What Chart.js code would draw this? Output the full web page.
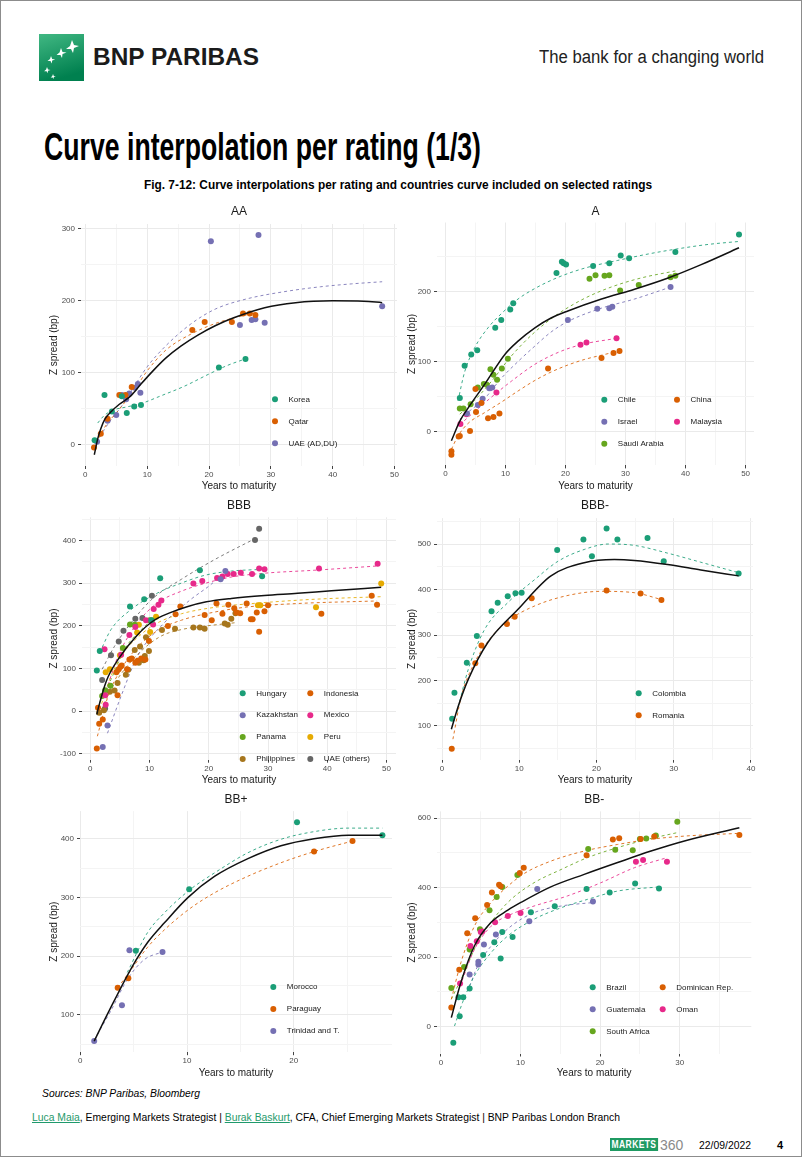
<!DOCTYPE html>
<html>
<head>
<meta charset="utf-8">
<script src="https://cdn.jsdelivr.net/npm/chart.js@4.4.1/dist/chart.umd.min.js"></script>
<style>
  html, body { margin: 0; padding: 0; background: #fff; }
  #page { position: relative; width: 802px; height: 1157px; box-sizing: border-box; border: 1px solid #8c8c8c; overflow: hidden; font-family: "Liberation Sans", Arial, sans-serif; }
  .txt { position: absolute; white-space: nowrap; transform-origin: 0 50%; line-height: 1; }
  canvas { position: absolute; }
  a { color: #1f9a6c; text-decoration: underline; }
</style>
</head>
<body>
<div id="page">
  <svg style="position:absolute;left:38px;top:33px" width="45" height="47" viewBox="0 0 45 47">
    <defs>
      <linearGradient id="lg" x1="0" y1="0" x2="0.3" y2="1">
        <stop offset="0" stop-color="#41b883"/>
        <stop offset="1" stop-color="#00804f"/>
      </linearGradient>
    </defs>
    <rect width="45" height="47" fill="url(#lg)"/>
    <g fill="#fff">
      <path d="M33 6 l2 5 5 1 -5 2 -1 5 -2 -4 -5 0 4 -3z"/>
      <path d="M22 14 l1.5 4 4 0.5 -4 1.5 -0.5 4 -1.5 -3 -4 0 3 -2.5z"/>
      <path d="M12 22 l1.2 3 3 0.5 -3 1 -0.5 3 -1.2 -2.5 -3 0 2.5 -2z"/>
      <path d="M8 33 l1 2.5 2.5 0.4 -2.5 0.9 -0.4 2.5 -1 -2 -2.5 0 2 -1.7z"/>
      <path d="M14 40 l0.8 2 2 0.3 -2 0.7 -0.3 2 -0.8 -1.6 -2 0 1.6 -1.4z"/>
    </g>
  </svg>
  <div id="brand" class="txt" style="left:92px;top:45px;font-size:23px;font-weight:bold;color:#1b1b1b">BNP PARIBAS</div>
  <div id="tagline" class="txt" style="left:538px;top:47px;font-size:18px;color:#222">The bank for a changing world</div>
  <div id="mainTitle" class="txt" style="left:43px;top:127px;font-size:38px;font-weight:bold;color:#000">Curve interpolation per rating (1/3)</div>
  <div id="subTitle" class="txt" style="left:143px;top:178px;font-size:12px;font-weight:bold;color:#000">Fig. 7-12: Curve interpolations per rating and countries curve included on selected ratings</div>
  <div id="sources" class="txt" style="left:41px;top:1087px;font-size:11px;font-style:italic;color:#000">Sources: BNP Paribas, Bloomberg</div>
  <div id="authors" class="txt" style="left:31px;top:1111px;font-size:11px;color:#000"><a>Luca Maia</a>, Emerging Markets Strategist | <a>Burak Baskurt</a>, CFA, Chief Emerging Markets Strategist | BNP Paribas London Branch</div>
  <div id="mk" class="txt" style="left:609px;top:1137px;font-size:11px;font-weight:bold;color:#fff;background:#1f9a62;padding:1px 2px;letter-spacing:0.5px">MARKETS</div>
  <div id="mk360" class="txt" style="left:659px;top:1137px;font-size:14px;color:#8a8a8a">360</div>
  <div id="dateTxt" class="txt" style="left:698px;top:1139px;font-size:11px;color:#000">22/09/2022</div>
  <div id="pageNo" class="txt" style="left:776px;top:1139px;font-size:11px;font-weight:bold;color:#000">4</div>
</div>
<script>
// ---------- data ----------
const dark2 = ['#1B9E77', '#D95F02', '#7570B3', '#E7298A', '#66A61E', '#E6AB02', '#A6761D', '#666666'];

// AA
const aaXTicks = [0, 10, 20, 30, 40, 50];
const aaYTicks = [0, 100, 200, 300];
const aaCountries = ['Korea', 'Qatar', 'UAE (AD,DU)'];
const aaKorea = [[1.5,6],[3.1,69],[4.3,46],[5.9,67],[6.7,44],[7.9,53],[9.0,55],[21.6,107],[25.9,119]];
const aaQatar = [[1.4,-4],[2.5,15],[3.6,36],[5.5,69],[6.5,69],[7.5,80],[17.3,159],[19.3,170],[23.7,170],[25.5,182],[26.6,182],[27.5,180]];
const aaUae = [[1.9,4],[3.6,33],[5.0,41],[5.9,69],[6.6,63],[7.1,71],[8.0,79],[8.5,84],[8.9,72],[20.3,282],[25.0,166],[26.9,173],[27.5,174],[28.0,291],[29.0,169],[48.0,192]];
const aaKoreaFit = [[2.0,30],[3.0,40],[4.5,48],[6.5,52],[9.0,57],[12.3,68],[16,81],[20,98],[23,110],[25.9,119]];
const aaQatarFit = [[1.4,-6],[2.5,15],[3.6,30],[5,44],[6.5,60],[7.9,75],[9.8,100],[13,131],[17,153],[21,168],[25,178],[27.5,183]];
const aaUaeFit = [[1.9,3],[3,20],[4.2,35],[6,55],[8,82],[10,108],[13,137],[17,167],[21,188],[26,202],[32,212],[38,219],[43,223],[48,226]];
const aaAllFit = [[1.45,-14],[2,8],[2.5,22],[3.2,36],[4.2,46],[5.5,56],[7.4,68],[9,84],[10.9,102],[13,120],[15.5,137],[18.2,152],[21,165],[24,176],[29,190],[34,197],[40,199.5],[45,199],[48,197]];

// A
const aXTicks = [0, 10, 20, 30, 40, 50];
const aYTicks = [0, 100, 200];
const aCountries = ['Chile', 'China', 'Israel', 'Malaysia', 'Saudi Arabia'];
const aChile = [[2.4,48],[3.2,94],[4.3,110],[5.3,116],[8.3,148],[9.3,159],[10.8,174],[11.3,183],[18.5,226],[19.4,242],[19.7,240],[20.1,238],[24.6,236],[27.3,240],[29.2,251],[30.6,247],[38.3,256],[48.9,281]];
const aChina = [[1.0,-28],[1.0,-33],[2.2,-7],[2.4,-6],[4.1,1],[5.0,61],[5.1,28],[6.0,41],[7.1,19],[8.0,21],[9.0,26],[17.1,90],[26.0,105],[28.0,112],[29.0,115]];
const aIsrael = [[3.6,26],[5.4,38],[6.2,47],[7.3,62],[7.8,63],[20.4,159],[25.3,175],[27.3,176],[27.8,178],[37.5,206]];
const aMalaysia = [[2.5,11],[3.5,25],[8.5,56],[22.5,124],[23.5,127],[28.5,133]];
const aSaudi = [[2.4,33],[3.0,33],[4.2,39],[5.4,63],[6.4,68],[6.9,67],[7.5,89],[8.0,81],[8.6,74],[9.4,90],[10.4,104],[24.0,218],[25.0,223],[26.5,222],[27.3,223],[29.1,201],[32.2,209],[37.5,220],[38.3,222]];
const aChileFit = [[2.1,44],[3.2,85],[4.9,120],[7.1,148],[9.3,168],[12.1,189],[14.9,204],[18.8,220],[23.2,233],[28.7,244],[34.3,254],[39.8,262],[44,267],[48.9,271]];
const aChinaFit = [[1,-25],[2.1,-6],[3.8,12],[6.5,27],[9.3,42],[12.1,58],[14.9,73],[17.6,85],[20.4,95],[23.2,103],[26,109],[29,115]];
const aIsraelFit = [[2.4,18],[3.8,28],[6.5,47],[9.3,76],[12.1,100],[14.9,122],[17.6,142],[20.4,157],[26,176],[31.5,189],[37.5,206]];
const aMalaysiaFit = [[2.4,10],[4.9,29],[8.2,53],[11,72],[14.9,96],[18.8,113],[22.6,124],[28.5,133]];
const aSaudiFit = [[2.4,25],[4.9,45],[7.7,72],[11,108],[14.9,142],[18.8,168],[23.2,190],[27.6,206],[32.6,219],[38.3,229]];
const aAllFit = [[1,-13],[2.4,15],[3.8,34],[6.5,67],[10,111],[12.1,129],[14.9,148],[17.6,162],[20.4,172],[26,189],[31.5,203],[37.1,219],[42.6,238],[48.9,262]];

// BBB
const bbbXTicks = [0, 10, 20, 30, 40, 50];
const bbbYTicks = [-100, 0, 100, 200, 300, 400];
const bbbCountries = ['Hungary', 'Indonesia', 'Kazakhstan', 'Mexico', 'Panama', 'Peru', 'Philippines', 'UAE (others)'];
const bbbHungary = [[1.1,95],[1.6,141],[6.7,245],[9.1,262],[10.3,213],[11.8,311],[18.5,330],[29.0,316]];
const bbbIndonesia = [[1.1,-88],[1.5,-30],[2.1,-20],[1.3,8],[4.6,37],[4.4,91],[4.8,98],[5.1,104],[5.3,107],[6.2,98],[6.6,121],[7.0,123],[7.6,113],[8.0,118],[8.6,123],[9.3,121],[9.9,164],[13.1,199],[14.4,227],[15.2,245],[19.3,225],[20.5,213],[21.3,252],[22.3,228],[23.3,249],[24.3,241],[24.7,231],[25.3,229],[26.4,252],[27.1,215],[27.4,215],[28.1,231],[28.5,186],[29.4,234],[30.0,248],[39.0,228],[47.5,270],[48.4,249]];
const bbbKazakhstan = [[2.1,-84],[2.9,-34],[22.0,309],[22.8,328]];
const bbbMexico = [[2.4,145],[2.5,37],[2.6,15],[5.2,132],[6.6,178],[7.6,197],[9.4,213],[10.6,203],[10.7,239],[11.5,249],[12.0,259],[17.4,299],[18.9,305],[21.4,312],[22.3,315],[23.2,321],[24.2,321],[25.4,324],[27.3,321],[28.5,334],[29.4,332],[38.6,334],[48.5,345]];
const bbbPanama = [[2.0,35],[2.5,49],[3.4,59],[5.5,148],[6.7,203],[7.5,202],[10.0,213],[10.4,213]];
const bbbPeru = [[2.6,91],[3.3,98],[5.0,131],[7.9,184],[8.2,202],[10.1,185],[11.1,221],[28.3,248],[28.7,248],[38.1,243],[49.1,299]];
const bbbPhilippines = [[1.5,-4],[2.3,2],[3.3,45],[4.1,48],[4.6,66],[6.0,85],[6.4,97],[7.5,143],[8.4,151],[9.4,173],[8.2,113],[9.0,119],[9.2,129],[9.9,141],[12.1,190],[14.3,193],[17.4,196],[18.5,196],[19.3,193],[22.7,205],[23.2,202],[23.8,216],[24.5,229]];
const bbbUae = [[2.0,73],[2.5,6],[3.5,131],[4.8,163],[5.6,188],[7.6,216],[8.8,218],[10.4,270],[27.8,401],[28.5,427]];
const bbbHungaryFit = [[1.6,137],[3.5,191],[6.9,238],[11.4,277],[15.4,300],[19.3,318],[23.8,328],[29,332]];
const bbbIndonesiaFit = [[1.2,-59],[3,35],[5.2,98],[8,150],[11.4,189],[15.4,213],[21,232],[26.6,244],[35,252],[48.4,258]];
const bbbKazakhstanFit = [[2.9,-52],[5.2,35],[8,129],[12.5,207],[17,262],[20.4,297],[22.8,328]];
const bbbMexicoFit = [[2.4,35],[4.7,129],[8,207],[11.4,254],[15.4,281],[19.3,299],[23.8,314],[29.4,323],[37.9,330],[48.5,340]];
const bbbPanamaFit = [[1.6,20],[3.5,74],[5.8,145],[8.6,191],[10.4,213]];
const bbbPeruFit = [[1.6,4],[3.5,82],[5.8,140],[8.6,180],[11.4,207],[15.4,228],[21,243],[28.3,253],[37.9,262],[49.1,268]];
const bbbPhilippinesFit = [[1.9,4],[3.5,51],[5.8,98],[8.6,141],[12,176],[15.4,191],[19.3,199],[24.5,207]];
const bbbUaeFit = [[2,98],[4.1,152],[6.9,207],[10.4,262],[15.4,309],[21,355],[27.8,404]];
const bbbAllFit = [[1.1,-8],[1.3,4],[2.7,70],[4.9,125],[7.8,176],[10.6,211],[13.4,230],[16.2,244],[19.6,256],[23.8,264],[29.4,271],[35,276],[40.7,282],[49.1,290]];

// BBB-
const bbbmXTicks = [0, 10, 20, 30, 40];
const bbbmYTicks = [100, 200, 300, 400, 500];
const bbbmCountries = ['Colombia', 'Romania'];
const bbbmColombia = [[1.3,116],[1.6,173],[3.2,239],[4.5,298],[6.4,352],[7.2,371],[8.5,385],[9.5,392],[10.3,393],[14.9,487],[18.3,510],[19.4,473],[21.3,534],[22.7,510],[26.6,513],[28.7,462],[38.4,435]];
const bbbmRomania = [[1.25,50],[4.3,238],[5.1,277],[8.4,324],[9.4,340],[11.6,381],[21.3,398],[25.7,391],[28.4,377]];
const bbbmColombiaFit = [[1.9,129],[3.4,225],[5.5,312],[8.5,371],[12,422],[15,462],[18.4,488],[21.5,500],[24.9,497],[29.2,480],[33.5,460],[38.4,437]];
const bbbmRomaniaFit = [[1.4,71],[2.5,166],[4.2,239],[6.4,296],[8.5,331],[12,364],[16.3,387],[20.6,396],[24.9,393],[28.4,378]];
const bbbmAllFit = [[1.2,93],[2.1,144],[3.4,203],[5.9,283],[9.8,356],[14.1,430],[18.4,459],[22.3,466],[24.9,464],[29.2,455],[33.5,443],[38.4,430]];

// BB+
const bbpXTicks = [0, 10, 20];
const bbpYTicks = [100, 200, 300, 400];
const bbpCountries = ['Morocco', 'Paraguay', 'Trinidad and T.'];
const bbpMorocco = [[5.2,209],[10.2,314],[20.3,428],[28.3,406]];
const bbpParaguay = [[3.5,146],[4.5,162],[21.9,378],[25.5,396]];
const bbpTrinidad = [[1.3,55],[3.9,116],[4.6,210],[7.7,207]];
const bbpMoroccoFit = [[4.4,172],[6.3,240],[7.9,274],[10.2,312],[12.6,342],[15.7,376],[18.8,399],[21.9,412],[25.1,418],[28.3,418]];
const bbpParaguayFit = [[3.5,146],[4.5,170],[6.3,215],[7.9,245],[10.2,280],[12.6,308],[15.7,336],[18.8,359],[21.9,378],[25.5,396]];
const bbpTrinidadFit = [[1.3,57],[2.9,108],[4.4,160],[6,194],[7.7,207]];
const bbpAllFit = [[1.3,55],[2.6,103],[4.8,180],[6.3,223],[7.9,257],[10.1,300],[12.6,336],[15.7,366],[18.8,388],[21.9,400],[25.1,406],[28.3,406]];

// BB-
const bbmXTicks = [0, 10, 20, 30];
const bbmYTicks = [0, 200, 400, 600];
const bbmCountries = ['Brazil', 'Dominican Rep.', 'Guatemala', 'Oman', 'South Africa'];
const bbmBrazil = [[1.55,-46],[2.35,30],[2.2,85],[2.8,85],[3.6,110],[5.3,206],[6.7,243],[7.5,196],[7.7,272],[9.0,258],[11.3,329],[14.3,346],[18.3,396],[21.2,386],[24.4,412],[27.4,397]];
const bbmDominican = [[1.3,55],[2.3,164],[3.3,269],[4.3,312],[5.8,350],[6.4,386],[7.3,408],[7.5,404],[9.9,442],[10.4,457],[18.3,493],[21.6,538],[22.4,542],[25.1,540],[26.8,547],[37.5,551]];
const bbmGuatemala = [[3.6,150],[4.7,187],[4.7,179],[5.4,236],[6.9,265],[11.1,303],[12.1,396],[19.1,360]];
const bbmOman = [[2.4,124],[3.7,232],[4.5,246],[5.0,272],[5.2,274],[6.8,300],[8.4,318],[10.0,327],[24.5,474],[25.4,479],[28.4,474]];
const bbmSouthAfrica = [[1.3,111],[2.9,172],[3.6,222],[4.9,280],[6.1,335],[7.0,373],[7.7,402],[9.6,436],[18.5,511],[21.9,509],[24.1,507],[25.0,540],[25.8,541],[27.0,550],[29.7,589]];
const bbmBrazilFit = [[1.7,2],[2.7,69],[4.2,146],[6.3,213],[8.4,261],[11.7,309],[15.1,342],[18.4,366],[22.2,390],[27.4,402]];
const bbmDominicanFit = [[1.3,79],[2.5,184],[4.2,289],[6.3,357],[8.4,404],[10.5,441],[13.8,476],[18,505],[22.2,524],[26.4,539],[30.6,548],[37.5,556]];
const bbmGuatemalaFit = [[3.6,117],[4.6,174],[6.3,232],[8.8,289],[11.7,328],[15.1,347],[19.1,357]];
const bbmOmanFit = [[2.4,117],[4.2,222],[6.3,289],[8.8,323],[11.7,347],[15.9,376],[20.1,414],[24.3,457],[28.4,486]];
const bbmSouthAfricaFit = [[1.3,79],[2.9,155],[4.6,242],[6.7,313],[8.8,366],[11.7,414],[15.1,452],[18.4,486],[22.2,515],[26,539],[29.7,558]];
const bbmAllFit = [[1.3,26],[2.5,127],[4.2,232],[6.3,300],[8.4,335],[10.1,358],[13.8,402],[18,438],[22.2,472],[26.4,505],[30.6,534],[37.5,572]];

// ---------- panels (layout in page pixels) ----------
const panels = [
  { id: 'AA', box: [47, 200, 403, 491], plot: [80, 223, 396, 465], xRange: [-0.7, 50.4], yRange: [-29.6, 306.1],
    xTicks: aaXTicks, yTicks: aaYTicks, titleY: 211, names: aaCountries,
    pts: [aaKorea, aaQatar, aaUae], fits: [aaKoreaFit, aaQatarFit, aaUaeFit], all: aaAllFit, colors: [0, 1, 2],
    legend: { x: 274, y: 398.3, cols: 1, colGap: 0, rowGap: 22 } },
  { id: 'A', box: [405, 200, 762, 491], plot: [436, 221.5, 753, 464.4], xRange: [-1.4, 51.4], yRange: [-48, 298],
    xTicks: aXTicks, yTicks: aYTicks, titleY: 211, names: aCountries,
    pts: [aChile, aChina, aIsrael, aMalaysia, aSaudi], fits: [aChileFit, aChinaFit, aIsraelFit, aMalaysiaFit, aSaudiFit], all: aAllFit, colors: [0, 1, 2, 3, 4],
    legend: { x: 603.3, y: 398.7, cols: 2, colGap: 72.7, rowGap: 22 } },
  { id: 'BBB', box: [47, 495, 403, 785], plot: [81, 516.3, 395, 758.7], xRange: [-1.4, 51.6], yRange: [-114, 454],
    xTicks: bbbXTicks, yTicks: bbbYTicks, titleY: 505, names: bbbCountries,
    pts: [bbbHungary, bbbIndonesia, bbbKazakhstan, bbbMexico, bbbPanama, bbbPeru, bbbPhilippines, bbbUae],
    fits: [bbbHungaryFit, bbbIndonesiaFit, bbbKazakhstanFit, bbbMexicoFit, bbbPanamaFit, bbbPeruFit, bbbPhilippinesFit, bbbUaeFit],
    all: bbbAllFit, colors: [0, 1, 2, 3, 4, 5, 6, 7],
    legend: { x: 241.7, y: 692.3, cols: 2, colGap: 67.6, rowGap: 21.9 } },
  { id: 'BBB-', box: [405, 495, 762, 785], plot: [436, 517.1, 752, 758.7], xRange: [-0.66, 40.26], yRange: [25.9, 557],
    xTicks: bbbmXTicks, yTicks: bbbmYTicks, titleY: 505, names: bbbmCountries,
    pts: [bbbmColombia, bbbmRomania], fits: [bbbmColombiaFit, bbbmRomaniaFit], all: bbbmAllFit, colors: [0, 1],
    legend: { x: 637.7, y: 692.3, cols: 1, colGap: 0, rowGap: 22 } },
  { id: 'BB+', box: [47, 785, 403, 1078], plot: [79, 810.1, 391, 1051.2], xRange: [-0.03, 29.2], yRange: [36.1, 447],
    xTicks: bbpXTicks, yTicks: bbpYTicks, titleY: 798.3, names: bbpCountries,
    pts: [bbpMorocco, bbpParaguay, bbpTrinidad], fits: [bbpMoroccoFit, bbpParaguayFit, bbpTrinidadFit], all: bbpAllFit, colors: [0, 1, 2],
    legend: { x: 272.3, y: 986, cols: 1, colGap: 0, rowGap: 22 } },
  { id: 'BB-', box: [405, 785, 762, 1078], plot: [436, 810.4, 750.3, 1052.5], xRange: [-0.5, 39.0], yRange: [-77, 619],
    xTicks: bbmXTicks, yTicks: bbmYTicks, titleY: 798.3, names: bbmCountries,
    pts: [bbmBrazil, bbmDominican, bbmGuatemala, bbmOman, bbmSouthAfrica],
    fits: [bbmBrazilFit, bbmDominicanFit, bbmGuatemalaFit, bbmOmanFit, bbmSouthAfricaFit], all: bbmAllFit, colors: [0, 1, 2, 3, 4],
    legend: { x: 591.7, y: 986.3, cols: 2, colGap: 70, rowGap: 22 } }
];

const FONT = '"Liberation Sans", Arial, sans-serif';
Chart.defaults.font.family = FONT;

function toXY(arr) {
  return arr.map(p => ({ x: p[0], y: p[1] }));
}

function fade(hex, a) {
  const n = parseInt(hex.slice(1), 16);
  return `rgba(${(n >> 16) & 255},${(n >> 8) & 255},${n & 255},${a})`;
}

// major ticks plus ggplot style minor lines half way between them
function gridValues(major, min, max) {
  const step = major[1] - major[0];
  const vals = [];
  for (let v = major[0] - step; v <= major[major.length - 1] + step + 1e-9; v += step / 2) {
    if (v >= min && v <= max) vals.push(Math.round(v * 1000) / 1000);
  }
  return vals;
}

// panel title centred over the plotting area
const panelTitle = {
  id: 'panelTitle',
  afterDraw(chart, args, o) {
    const { ctx, chartArea } = chart;
    ctx.save();
    ctx.font = '12px ' + FONT;
    ctx.fillStyle = '#1a1a1a';
    ctx.textAlign = 'center';
    ctx.textBaseline = 'middle';
    ctx.fillText(o.text, (chartArea.left + chartArea.right) / 2, o.y);
    ctx.restore();
  }
};

// ggplot legend sitting inside the panel
const insideLegend = {
  id: 'insideLegend',
  afterDraw(chart, args, o) {
    const ctx = chart.ctx;
    const items = chart.data.datasets.filter(d => d.label);
    ctx.save();
    ctx.font = '8px ' + FONT;
    ctx.textBaseline = 'middle';
    ctx.textAlign = 'left';
    items.forEach((d, i) => {
      const x = o.x + (i % o.cols) * o.colGap;
      const y = o.y + Math.floor(i / o.cols) * o.rowGap;
      ctx.fillStyle = d.backgroundColor;
      ctx.beginPath();
      ctx.arc(x, y, 3, 0, Math.PI * 2);
      ctx.fill();
      ctx.fillStyle = '#1a1a1a';
      ctx.fillText(d.label, x + 13.5, y);
    });
    ctx.restore();
  }
};

function axis(major, range, size, isX) {
  const isMajor = v => major.includes(v);
  return {
    type: 'linear',
    min: range[0],
    max: range[1],
    bounds: 'data',
    afterBuildTicks: s => { s.ticks = gridValues(major, range[0], range[1]).map(v => ({ value: v })); },
    afterFit: s => { if (isX) s.height = size; else s.width = size; },
    border: { display: false },
    grid: {
      color: c => (c.tick && isMajor(c.tick.value)) ? '#EAEAEA' : '#F4F4F4',
      lineWidth: 1,
      tickLength: 3,
      tickColor: c => (c.tick && isMajor(c.tick.value)) ? '#444' : 'rgba(0,0,0,0)'
    },
    ticks: {
      autoSkip: false,
      maxRotation: 0,
      padding: isX ? 1 : 3,
      color: '#4D4D4D',
      font: { size: 8 },
      callback: v => isMajor(v) ? String(v) : ''
    },
    title: {
      display: true,
      text: isX ? 'Years to maturity' : 'Z spread (bp)',
      color: '#1a1a1a',
      font: { size: 10 },
      padding: 0
    }
  };
}

function buildPanel(p) {
  const [L, T, R, B] = p.box;
  const [pl, pt, pr, pb] = p.plot;
  const cv = document.createElement('canvas');
  cv.width = R - L;
  cv.height = B - T;
  cv.style.left = L + 'px';
  cv.style.top = T + 'px';
  cv.style.width = (R - L) + 'px';
  cv.style.height = (B - T) + 'px';
  document.getElementById('page').appendChild(cv);

  const datasets = [{
    data: toXY(p.all), showLine: true, borderColor: '#111', borderWidth: 1.5,
    pointRadius: 0, cubicInterpolationMode: 'monotone', order: 0
  }];
  p.names.forEach((name, i) => {
    const col = dark2[p.colors[i]];
    datasets.push({
      data: toXY(p.fits[i]), showLine: true, borderColor: fade(col, 0.85), borderWidth: 1,
      borderDash: [3, 3], pointRadius: 0, cubicInterpolationMode: 'monotone', order: 2
    });
    datasets.push({
      label: name, data: toXY(p.pts[i]), showLine: false, backgroundColor: col,
      pointBackgroundColor: col, pointBorderWidth: 0, pointRadius: 3, order: 1
    });
  });

  new Chart(cv.getContext('2d'), {
    type: 'scatter',
    data: { datasets: datasets },
    options: {
      responsive: false,
      animation: false,
      devicePixelRatio: 1,
      layout: { padding: { left: 0, bottom: 0, top: pt - T, right: R - pr } },
      scales: {
        x: axis(p.xTicks, p.xRange, B - pb, true),
        y: axis(p.yTicks, p.yRange, pl - L, false)
      },
      plugins: {
        legend: { display: false },
        tooltip: { enabled: false },
        panelTitle: { text: p.id, y: p.titleY - T },
        insideLegend: { x: p.legend.x - L, y: p.legend.y - T, cols: p.legend.cols, colGap: p.legend.colGap, rowGap: p.legend.rowGap }
      }
    },
    plugins: [panelTitle, insideLegend]
  });
}

panels.forEach(buildPanel);

// page texts squeezed to the widths of the condensed report fonts
function fitText(id, width) {
  const el = document.getElementById(id);
  el.style.transform = 'scaleX(' + (width / el.getBoundingClientRect().width) + ')';
}
fitText('brand', 166);
fitText('tagline', 225);
fitText('mainTitle', 437);
fitText('subTitle', 508);
fitText('sources', 158);
fitText('authors', 588);
fitText('mk', 48);
fitText('dateTxt', 52);
</script>
</body>
</html>
